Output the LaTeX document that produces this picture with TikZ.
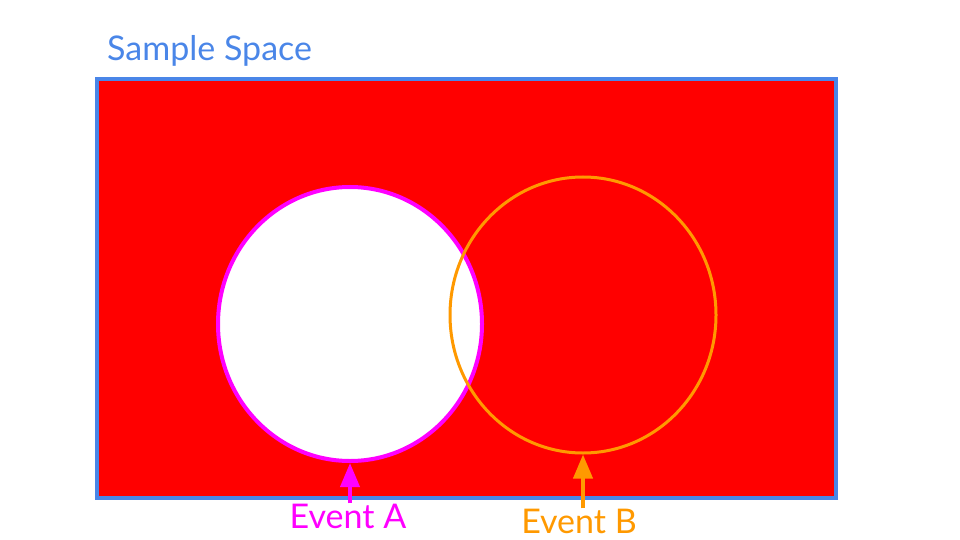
\documentclass[tikz,border=0pt]{standalone}
\usepackage{fontspec}
\setmainfont{Lato}
\usetikzlibrary{arrows.meta,positioning,shapes.geometric}
\definecolor{frame}{HTML}{4A86E8}
\definecolor{bg}{HTML}{FF0000}
\definecolor{evacol}{HTML}{FF00FF}
\definecolor{evbcol}{HTML}{FF9900}

\begin{document}
\begin{tikzpicture}[x=1pt,y=-1pt,
              lbl/.style={font=\fontsize{34}{40}\selectfont,inner sep=0},
              ev/.style={ellipse,inner sep=0,minimum width=264pt},
              pointer/.style={line width=4pt,-{Triangle[width=19pt,length=24pt]}}]
              \useasboundingbox (0,0) rectangle (960,540);
              \node[draw=frame,fill=bg,line width=4pt,minimum width=739pt,minimum height=419pt,inner sep=0] (space) at (466.5,288.5) {};
              \node[lbl,text=frame,anchor=base west] (title) at (107,61) {Sample Space};
              \node[ev,draw=evacol,fill=white,line width=4pt,minimum height=274pt] (evA) at (350,324) {};
              \node[ev,draw=evbcol,line width=3pt,minimum width=266pt,minimum height=276pt] (evB) at (583,315) {};
              \node[lbl,text=evacol] (labA) at (348,516) {Event A};
              \node[lbl,text=evbcol] (labB) at (579,521) {Event B};
              \draw[pointer,evacol] (labA.north -| evA.south) -- (evA.south);
              \draw[pointer,evbcol] (labB.north -| evB.south) -- (evB.south);
            \end{tikzpicture}
\end{document}
